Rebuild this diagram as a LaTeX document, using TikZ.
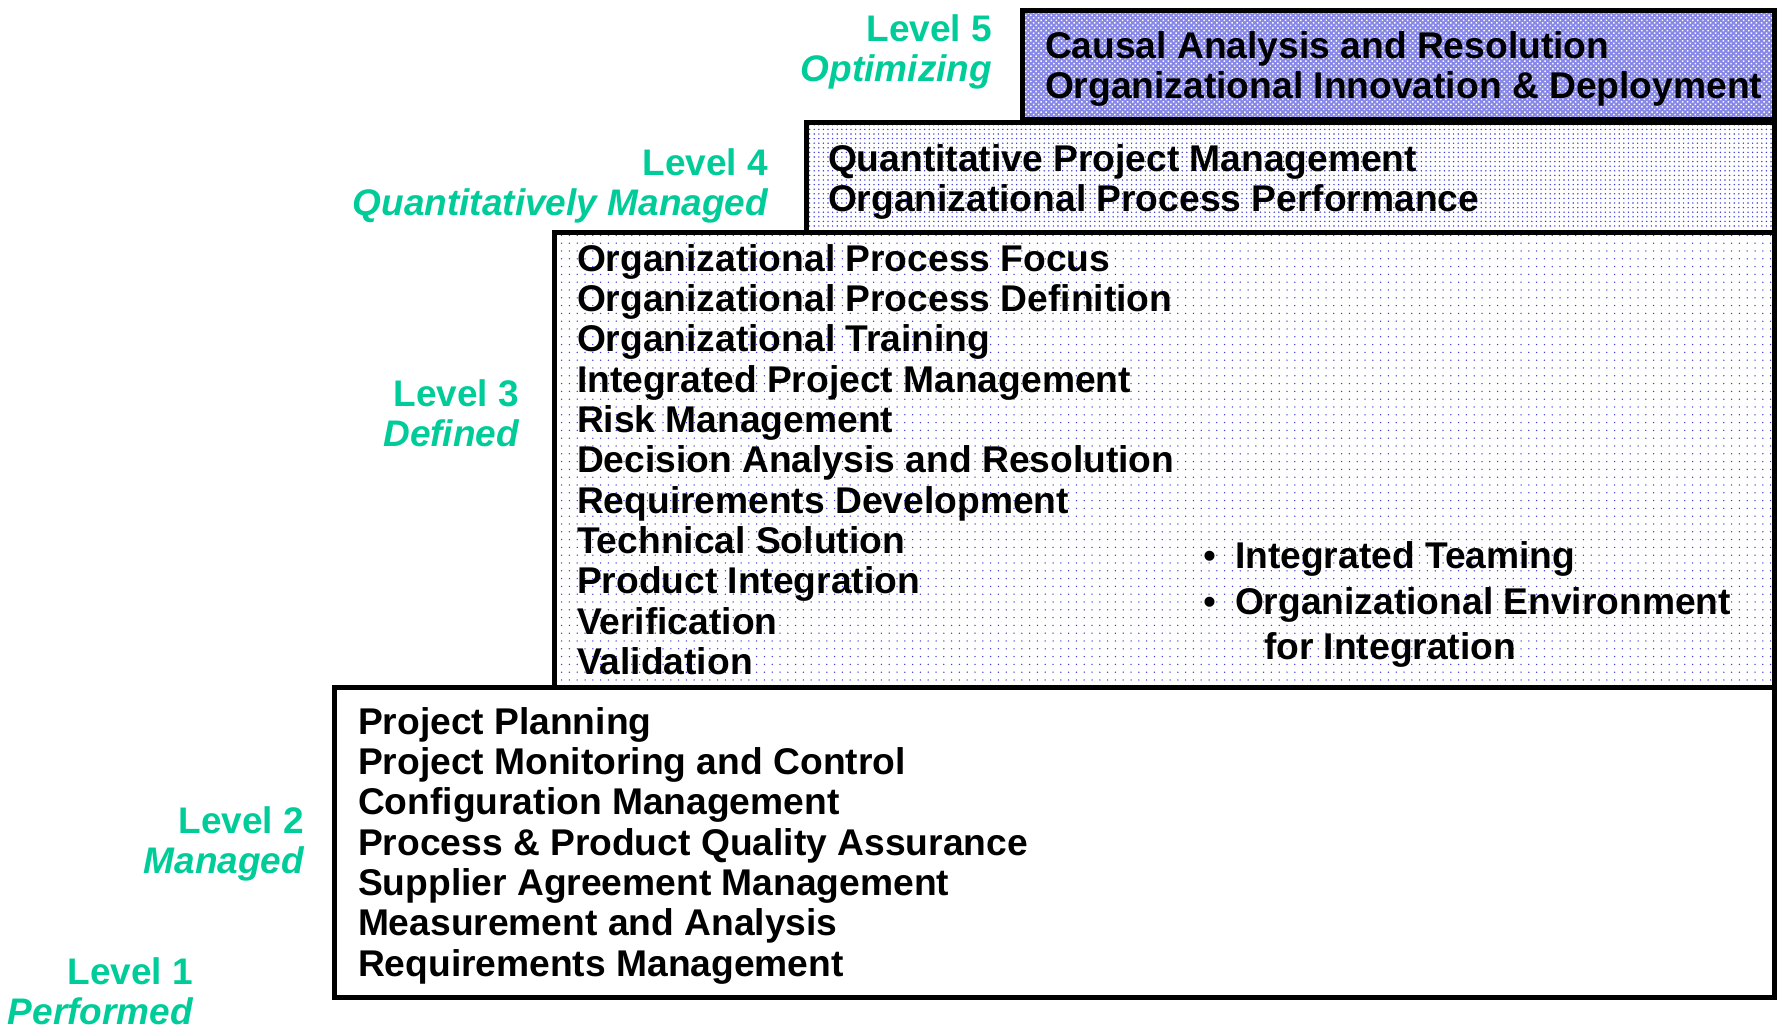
\documentclass[tikz,border=0pt]{standalone}
\usepackage{fontspec}
\setmainfont{Liberation Sans}
\usetikzlibrary{positioning,patterns.meta}

\definecolor{lvlgreen}{RGB}{0,204,153}
\definecolor{dotblue}{RGB}{60,60,220}
\definecolor{hatchblue}{RGB}{135,135,232}

\begin{document}
\begin{tikzpicture}[x=1pt,y=-1pt,
    area/.style={draw=black,line width=5pt},
    item/.style={font=\fontsize{37.2}{40}\selectfont\bfseries,inner sep=0pt,outer sep=0pt,text height=27pt,text depth=8pt,anchor=base west},
    lvl/.style={item,font=\fontsize{37}{40}\selectfont\bfseries,text=lvlgreen,anchor=base east},
    lvlname/.style={lvl,font=\fontsize{37}{40}\selectfont\bfseries\itshape}]
    \useasboundingbox (0,0) rectangle (1777,1031);

    % boxes, bottom level first
    \draw[area,fill=white] (334,687) rectangle (1774,997);
    \draw[area,preaction={fill=white},pattern={Dots[distance=7.8pt,radius=0.75pt]},pattern color=dotblue] (554,232) rectangle (1774,687);
    \draw[area,preaction={fill=white},pattern={Dots[distance=4.6pt,radius=0.8pt]},pattern color=dotblue] (806,122) rectangle (1774,232);
    \draw[area,preaction={fill=hatchblue},pattern={Dots[distance=3.6pt,radius=1.05pt,angle=45]},pattern color=white] (1022,10) rectangle (1774,119);

    % level names
    \node[lvl] (l5) at (992,41) {Level 5};
    \node[lvlname] (l5n) [below=5pt of l5.south east,anchor=north east] {Optimizing};
    \node[lvl] (l4) at (768,175) {Level 4};
    \node[lvlname] (l4n) [below=5pt of l4.south east,anchor=north east] {Quantitatively Managed};
    \node[lvl] (l3) at (519,406) {Level 3};
    \node[lvlname] (l3n) [below=5pt of l3.south east,anchor=north east] {Defined};
    \node[lvl] (l2) at (304,833) {Level 2};
    \node[lvlname] (l2n) [below=5pt of l2.south east,anchor=north east] {Managed};
    \node[lvl] (l1) at (193,984) {Level 1};
    \node[lvlname] (l1n) [below=5pt of l1.south east,anchor=north east] {Performed};

    % level 5
    \node[item] (car) at (1045,58) {Causal Analysis and Resolution};
    \node[item] (oid) [below=5.8pt of car.south west,anchor=north west] {Organizational Innovation \& Deployment};

    % level 4
    \node[item] (qpm) at (828,171) {Quantitative Project Management};
    \node[item] (opp) [below=5.8pt of qpm.south west,anchor=north west] {Organizational Process Performance};

    % level 3
    \node[item] (opf) at (577,271) {Organizational Process Focus};
    \node[item] (opd) [below=5.35pt of opf.south west,anchor=north west] {Organizational Process Definition};
    \node[item] (ot) [below=5.35pt of opd.south west,anchor=north west] {Organizational Training};
    \node[item] (ipm) [below=5.35pt of ot.south west,anchor=north west] {Integrated Project Management};
    \node[item] (rskm) [below=5.35pt of ipm.south west,anchor=north west] {Risk Management};
    \node[item] (dar) [below=5.35pt of rskm.south west,anchor=north west] {Decision Analysis and Resolution};
    \node[item] (rd) [below=5.35pt of dar.south west,anchor=north west] {Requirements Development};
    \node[item] (ts) [below=5.35pt of rd.south west,anchor=north west] {Technical Solution};
    \node[item] (pi) [below=5.35pt of ts.south west,anchor=north west] {Product Integration};
    \node[item] (ver) [below=5.35pt of pi.south west,anchor=north west] {Verification};
    \node[item] (val) [below=5.35pt of ver.south west,anchor=north west] {Validation};

    \node[item,font=\fontsize{37}{40}\selectfont] (b1) at (1203,568) {•};
    \node[item] (it) at (1235,568) {Integrated Teaming};
    \node[item,font=\fontsize{37}{40}\selectfont] (b2) at (1203,614) {•};
    \node[item] (oei) at (1235,614) {Organizational Environment};
    \node[item] (oei2) at (1264,659) {for Integration};

    % level 2
    \node[item] (pp) at (358,734) {Project Planning};
    \node[item] (pmc) [below=5.35pt of pp.south west,anchor=north west] {Project Monitoring and Control};
    \node[item] (cm) [below=5.35pt of pmc.south west,anchor=north west] {Configuration Management};
    \node[item] (ppqa) [below=5.35pt of cm.south west,anchor=north west] {Process \& Product Quality Assurance};
    \node[item] (sam) [below=5.35pt of ppqa.south west,anchor=north west] {Supplier Agreement Management};
    \node[item] (ma) [below=5.35pt of sam.south west,anchor=north west] {Measurement and Analysis};
    \node[item] (reqm) [below=5.35pt of ma.south west,anchor=north west] {Requirements Management};
\end{tikzpicture}
\end{document}
